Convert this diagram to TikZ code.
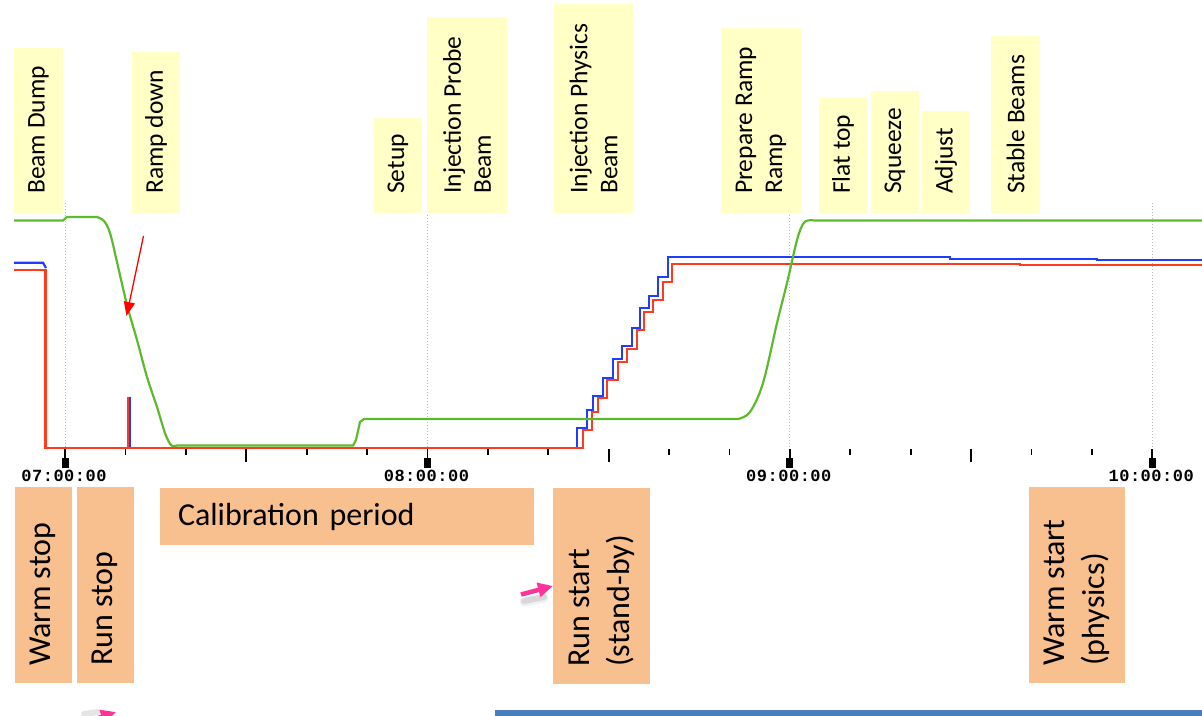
\documentclass[tikz,border=0pt]{standalone}
\usepackage{fontspec}
\setmainfont{Carlito}
\newfontfamily\tickfont{Liberation Mono}[LetterSpace=3]
\usetikzlibrary{arrows.meta}
\definecolor{ycol}{HTML}{FFFFC6}
\definecolor{ocol}{HTML}{F9C08F}
\definecolor{gcol}{HTML}{5CBB2C}
\definecolor{rcol}{HTML}{FF3B1F}
\definecolor{bcol}{HTML}{1F3CFF}
\definecolor{pcol}{HTML}{FF3399}
\definecolor{barcol}{HTML}{4A7EBB}
\definecolor{gridcol}{HTML}{BBBBBB}
\begin{document}
\begin{tikzpicture}[x=1pt,y=-1pt,
  ybox/.style={fill=ycol, inner sep=0pt},
  obox/.style={fill=ocol, inner sep=0pt},
  ytext/.style={rotate=90, anchor=west, align=left, inner sep=0pt, font=\fontsize{25.5}{30}\selectfont},
  otext/.style={rotate=90, anchor=west, align=left, inner sep=0pt, font=\fontsize{32}{40}\selectfont},
  tickln/.style={line width=1.8pt, black},
  tlab/.style={font=\fontsize{17}{17}\tickfont\bfseries, inner sep=0pt},
  gridln/.style={gridcol, line width=0.9pt, dash pattern=on 1pt off 2pt},
  curve/.style={line width=2.2pt, line join=miter},
  pinkarrow/.style={pcol, line width=4.5pt, -{Triangle[length=15pt,width=14pt]}},
  shadowln/.style={black, opacity=0.10, line width=6pt, line cap=round}
]
\useasboundingbox (0,0) rectangle (1202,715);
\clip (0,0) rectangle (1202,715);

% dotted hour grid
\foreach \gx in {65,427.4,789.8,1152.2}{
  \draw[gridln] (\gx,203) -- (\gx,447);
}

% top phase labels
\node[ybox, minimum width=49pt, minimum height=165pt] (bdbox) at (38.5,130.5) {};
\node[ytext] (bdtxt) at (38.5,194) {Beam Dump};
\node[ybox, minimum width=48pt, minimum height=161pt] (rdbox) at (156,132.5) {};
\node[ytext] (rdtxt) at (156,194) {Ramp down};
\node[ybox, minimum width=48pt, minimum height=95pt] (subox) at (398,165.5) {};
\node[ytext] (sutxt) at (398,194) {Setup};
\node[ybox, minimum width=80pt, minimum height=196pt] (ipbox) at (467,115) {};
\node[ytext] (iptxt) at (467,194) {Injection Probe\\Beam};
\node[ybox, minimum width=79pt, minimum height=209pt] (iybox) at (593.5,108.5) {};
\node[ytext] (iytxt) at (593.5,194) {Injection Physics\\Beam};
\node[ybox, minimum width=80pt, minimum height=185pt] (prbox) at (761,120.5) {};
\node[ytext] (prtxt) at (761,194) {Prepare Ramp\\Ramp};
\node[ybox, minimum width=48pt, minimum height=115pt] (ftbox) at (843,155.5) {};
\node[ytext] (fttxt) at (843,194) {Flat top};
\node[ybox, minimum width=48pt, minimum height=122pt] (sqbox) at (895,152) {};
\node[ytext] (sqtxt) at (895,194) {Squeeze};
\node[ybox, minimum width=48pt, minimum height=102pt] (adbox) at (946,162) {};
\node[ytext] (adtxt) at (946,194) {Adjust};
\node[ybox, minimum width=49pt, minimum height=177pt] (sbbox) at (1015.5,124.5) {};
\node[ytext] (sbtxt) at (1015.5,194) {Stable Beams};

% ticks
\foreach \k in {0,...,18}{
  \pgfmathsetmacro\tx{65+60.4*\k}
  \pgfmathtruncatemacro\m{mod(\k,6)}
  \ifnum\m=0
    \draw[tickln] (\tx,449) -- (\tx,460);
    \fill (\tx-3.5,458) rectangle (\tx+3.5,468);
  \else\ifnum\m=3
    \draw[tickln] (\tx,449) -- (\tx,462);
  \else
    \draw[tickln] (\tx,449) -- (\tx,455);
  \fi\fi
}
\node[tlab] (h7) at (64,476) {07:00:00};
\node[tlab] (h8) at (426.4,476) {08:00:00};
\node[tlab] (h9) at (788.8,476) {09:00:00};
\node[tlab] (h10) at (1151.2,476) {10:00:00};

% blue curve
\draw[curve, bcol] (14,262.7) -- (43,262.7) -- (46,268);
\draw[curve, bcol] (130.3,448) -- (130.3,397);
\draw[curve, bcol] (560,447.7) -- (576.7,447.7) -- (576.7,428.3) -- (586.7,428.3) -- (586.7,410) -- (593.3,410)
  -- (593.3,396) -- (603.3,396) -- (603.3,377.7) -- (612.7,377.7) -- (612.7,359.3) -- (621.7,359.3)
  -- (621.7,346) -- (631.7,346) -- (631.7,327.7) -- (640,327.7) -- (640,308.3) -- (649.3,308.3)
  -- (649.3,295.7) -- (658.3,295.7) -- (658.3,276.7) -- (667.7,276.7) -- (667.7,257.3)
  -- (950,257.3) -- (950,259) -- (1097,259) -- (1097,260) -- (1202,260);

% red curve
\draw[curve, rcol] (14,270) -- (45.5,270) -- (45.5,448) -- (582.7,448) -- (582.7,430) -- (591.7,430)
  -- (591.7,412) -- (598.3,412) -- (598.3,397.7) -- (607.3,397.7) -- (607.3,380) -- (617.7,380)
  -- (617.7,361.7) -- (627.3,361.7) -- (627.3,348.7) -- (637.3,348.7) -- (637.3,330) -- (644,330)
  -- (644,311.7) -- (653.3,311.7) -- (653.3,300) -- (662.7,300) -- (662.7,281.7) -- (671.7,281.7)
  -- (671.7,264) -- (1020,264) -- (1020,265) -- (1202,265);
\draw[curve, rcol] (127.7,448) -- (127.7,397);

% green curve
\draw[curve, gcol] (14,220.5) -- (63,220.5) -- (67,217) -- (97,217)
  -- plot[smooth, tension=0.55] coordinates {(97,217) (104,221) (110,233) (117,262) (127,305) (137,340) (147,377) (157,407) (165,433) (171,445) (177,445.5)}
  -- (353,445.5) -- (356,440) -- (360,422) -- (364,419) -- (738,419)
  -- plot[smooth, tension=0.55] coordinates {(738,419) (750,412) (763,383) (777,323) (787,283) (797,240) (803,224) (808,220.5) (815,220.5)}
  -- (1202,220.5);

% red arrow
\coordinate (ras) at (143.5,236);
\coordinate (rat) at (126.5,316);
\draw[red, line width=1.3pt, -{Triangle[length=14pt,width=11pt]}] (ras) -- (rat);

% bottom labels
\node[obox, minimum width=57pt, minimum height=196pt] (wsbox) at (43,585) {};
\node[otext] (wstxt) at (43,666) {Warm stop};
\node[obox, minimum width=57pt, minimum height=196pt] (rsbox) at (105,585) {};
\node[otext] (rstxt) at (105,666) {Run stop};
\node[fill=ocol, minimum width=374pt, minimum height=57pt, text width=338pt, inner xsep=18pt, inner ysep=0pt,
      align=left, font=\fontsize{32}{39}\selectfont] (cal) at (347,516.5) {Calibration period};
\node[obox, minimum width=97pt, minimum height=196pt] (rbbox) at (601.5,586) {};
\node[otext] (rbtxt) at (601.5,667) {Run start\\(stand-by)};
\node[obox, minimum width=96pt, minimum height=196pt] (wpbox) at (1077,585) {};
\node[otext] (wptxt) at (1077,666) {Warm start\\(physics)};

% pink arrows
\coordinate (p1s) at (521,594.5);
\coordinate (p1t) at (553,586);
\draw[shadowln] (524,601) -- (544,597);
\draw[shadowln, opacity=0.06, line width=9pt] (524,602) -- (544,598);
\draw[pinkarrow] (p1s) -- (p1t);
\coordinate (p2s) at (84,723);
\coordinate (p2t) at (116,712);
\draw[shadowln] (84,714) -- (98,712);
\draw[pinkarrow] (p2s) -- (p2t);

% blue bar
\fill[barcol] (495,710) rectangle (1202,716);
\end{tikzpicture}
\end{document}
